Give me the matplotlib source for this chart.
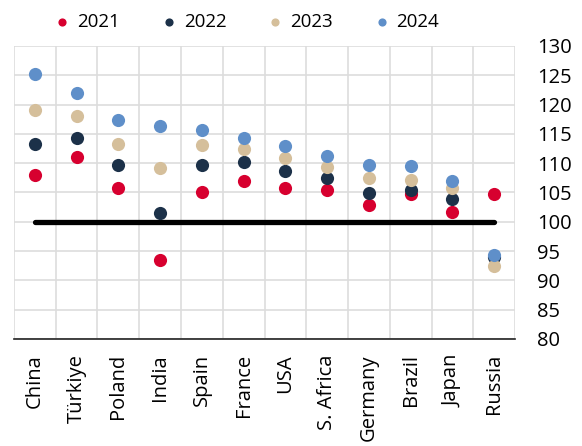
import matplotlib.pyplot as plt
import numpy as np

plt.rcParams['font.family'] = ['Open Sans', 'DejaVu Sans']

countries = ["China", "Türkiye", "Poland", "India", "Spain", "France", "USA",
             "S. Africa", "Germany", "Brazil", "Japan", "Russia"]
years = ["2021", "2022", "2023", "2024"]
v2021 = [108.0, 111.0, 105.7, 93.4, 105.1, 107.0, 105.7, 105.4, 102.9, 104.8, 101.7, 104.7]
v2022 = [113.3, 114.3, 109.7, 101.5, 109.7, 110.2, 108.6, 107.4, 104.9, 105.4, 103.9, 94.0]
v2023 = [119.0, 118.1, 113.3, 109.2, 113.1, 112.4, 110.8, 109.3, 107.5, 107.1, 105.7, 92.5]
v2024 = [125.2, 122.0, 117.3, 116.3, 115.7, 114.3, 112.9, 111.2, 109.6, 109.5, 107.0, 94.4]
colors = ["#D7002F", "#1C3149", "#D5BF9B", "#5F8FC9"]
baseline = 100

fig = plt.figure(figsize=(5.82, 4.46), dpi=100)
ax = fig.add_axes([0.024, 0.240, 0.861, 0.657])

x = np.arange(len(countries))
for vals, c, lab in zip([v2021, v2022, v2023, v2024], colors, years):
    ax.scatter(x, vals, s=90, color=c, label=lab, zorder=3, linewidths=0)

ax.plot([x[0], x[-1]], [baseline, baseline], color="black", lw=3.8,
        solid_capstyle="round", zorder=2)

ax.set_xlim(-0.5, len(countries) - 0.5)
ax.set_ylim(80, 130)
ax.set_yticks(range(80, 131, 5))
ax.set_xticks(x + 0.5, minor=False)
ax.set_xticks(x, minor=True)
ax.set_xticklabels([])
ax.set_xticklabels(countries, minor=True, rotation=90, ha="center", va="top", fontsize=14.5)
ax.grid(True, which="major", color="#DDDDDD", lw=1.2, zorder=0)
ax.set_axisbelow(True)
ax.tick_params(axis="x", which="both", length=0, pad=11)
ax.yaxis.tick_right()
ax.tick_params(axis="y", length=0, pad=16, labelsize=14.5)

for s in ["top", "right", "left"]:
    ax.spines[s].set_visible(False)
ax.spines["bottom"].set_color("#222222")
ax.spines["bottom"].set_linewidth(1.2)
# left edge gridline
ax.axvline(-0.5, color="#DDDDDD", lw=1.2, zorder=0)

fig.legend(loc="center", bbox_to_anchor=(0.423, 0.951), ncol=4, frameon=False,
           fontsize=13.5, markerscale=0.62, handletextpad=0.3, columnspacing=2.1,
           handlelength=1.0)

plt.savefig("out.png", dpi=100)
